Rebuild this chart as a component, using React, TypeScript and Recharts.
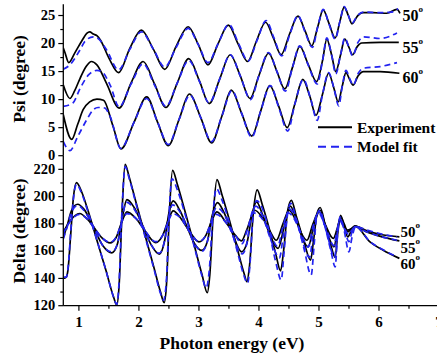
import React from 'react';
import { LineChart, Line, XAxis, YAxis } from 'recharts';

// Ellipsometry spectra: Psi and Delta at three incidence angles,
// measured (black) against the model fit (blue dashes).

type Pt = [number, number];

const FONT = "'Times New Roman', 'Liberation Serif', serif";
const BLUE = '#2323f0';

const energyTicks = [1, 1.5, 2, 2.5, 3, 3.5, 4, 4.5, 5, 5.5, 6, 6.5, 7];
const energyLabels = [1, 2, 3, 4, 5, 6, 7];
const psiTicks = [0, 2.5, 5, 7.5, 10, 12.5, 15, 17.5, 20, 22.5, 25];
const psiLabels = [0, 5, 10, 15, 20, 25];
const deltaTicks = [120, 130, 140, 150, 160, 170, 180, 190, 200, 210, 220];
const deltaLabels = [120, 140, 160, 180, 200, 220];
const angleLabels = ['50', '55', '60'];
const legendLabels = ['Experiment', 'Model fit'];

// ---- Psi (degree) ----
const psi50Exp: Pt[] = [
  [0.74, 19.2], [0.77, 18.3], [0.83, 16.6], [0.93, 18.3], [1.05, 20.5], [1.13, 21.8], [1.18, 22.1],
  [1.24, 21.7], [1.3, 21.4], [1.36, 20.6], [1.5, 17.4], [1.66, 14.8], [1.85, 19.2], [2.04, 22.4],
  [2.24, 19.0], [2.43, 15.4], [2.62, 19.5], [2.82, 23.0], [2.99, 19.8], [3.15, 16.2], [3.32, 20.0],
  [3.49, 23.3], [3.65, 20.0], [3.81, 16.8], [3.96, 20.5], [4.11, 23.8], [4.24, 21.0], [4.37, 18.0],
  [4.51, 21.7], [4.65, 24.9], [4.77, 22.2], [4.88, 19.6], [4.98, 23.0], [5.07, 26.0], [5.17, 23.5],
  [5.27, 21.0], [5.35, 24.0], [5.42, 26.5], [5.49, 25.0], [5.55, 23.5], [5.64, 24.9], [5.73, 25.5],
  [5.9, 25.5], [6.13, 25.4], [6.3, 26.1], [6.35, 25.4],
];
const psi50Fit: Pt[] = [
  [0.74, 15.4], [0.85, 16.2], [1.02, 18.9], [1.1, 20.4], [1.24, 21.2], [1.32, 20.9], [1.46, 18.9],
  [1.66, 15.3], [1.85, 19.0], [2.04, 22.1], [2.24, 19.0], [2.43, 15.8], [2.62, 19.3], [2.82, 22.7],
  [2.99, 19.8], [3.15, 16.6], [3.32, 20.0], [3.5, 23.4], [3.66, 20.0], [3.82, 16.9], [3.97, 20.6],
  [4.12, 24.1], [4.25, 21.0], [4.38, 17.8], [4.52, 21.8], [4.65, 25.0], [4.77, 22.0], [4.89, 19.3],
  [4.98, 23.0], [5.07, 26.1], [5.17, 23.4], [5.27, 20.8], [5.35, 24.0], [5.42, 26.6], [5.49, 25.0],
  [5.55, 23.6], [5.64, 25.0], [5.75, 25.6], [6.0, 25.5], [6.2, 25.6], [6.32, 26.2],
];
const psi55Exp: Pt[] = [
  [0.74, 12.6], [0.85, 10.2], [0.93, 11.6], [1.02, 13.8], [1.12, 15.9], [1.21, 16.8], [1.3, 16.2],
  [1.46, 12.9], [1.67, 8.5], [1.87, 13.0], [2.07, 16.8], [2.26, 12.8], [2.45, 8.6], [2.64, 13.0],
  [2.83, 17.3], [3.01, 13.3], [3.17, 9.3], [3.35, 13.8], [3.52, 18.0], [3.69, 14.2], [3.85, 10.2],
  [4.0, 14.3], [4.16, 18.3], [4.3, 15.0], [4.43, 11.9], [4.56, 15.8], [4.68, 19.5], [4.82, 16.3],
  [4.96, 13.2], [5.06, 17.0], [5.13, 20.8], [5.21, 18.0], [5.28, 15.0], [5.36, 18.0], [5.43, 20.8],
  [5.5, 19.3], [5.56, 18.0], [5.64, 19.5], [5.71, 20.1], [6.02, 20.2], [6.33, 20.2],
];
const psi55Fit: Pt[] = [
  [0.74, 8.8], [0.9, 9.4], [1.02, 12.0], [1.16, 14.4], [1.3, 15.2], [1.38, 15.0], [1.52, 12.6],
  [1.67, 8.7], [1.87, 12.8], [2.07, 16.4], [2.26, 12.6], [2.45, 8.8], [2.64, 13.0], [2.83, 17.0],
  [3.01, 13.2], [3.17, 9.4], [3.35, 13.8], [3.52, 18.0], [3.69, 14.2], [3.86, 10.0], [4.0, 14.3],
  [4.16, 18.4], [4.3, 15.0], [4.44, 11.5], [4.56, 15.8], [4.68, 19.6], [4.82, 16.2], [4.97, 12.8],
  [5.06, 17.0], [5.13, 21.0], [5.21, 18.0], [5.28, 14.6], [5.36, 18.0], [5.43, 21.0], [5.5, 19.3],
  [5.56, 17.8], [5.65, 20.2], [5.74, 21.2], [6.02, 20.9], [6.3, 21.9],
];
const psi60Exp: Pt[] = [
  [0.74, 7.3], [0.88, 2.9], [0.98, 5.6], [1.07, 8.2], [1.18, 9.6], [1.3, 10.1], [1.41, 9.9],
  [1.57, 5.2], [1.7, 1.2], [1.92, 6.0], [2.13, 10.5], [2.31, 6.0], [2.49, 1.8], [2.67, 6.5],
  [2.84, 11.0], [3.03, 6.8], [3.21, 2.3], [3.38, 7.0], [3.54, 11.7], [3.71, 7.6], [3.88, 3.5],
  [4.03, 8.0], [4.18, 12.5], [4.33, 8.8], [4.47, 5.0], [4.6, 9.3], [4.73, 13.6], [4.85, 10.5],
  [4.95, 7.2], [5.06, 11.0], [5.16, 14.7], [5.25, 12.0], [5.32, 9.6], [5.39, 12.5], [5.45, 14.8],
  [5.51, 13.6], [5.57, 12.6], [5.65, 14.2], [5.74, 15.0], [6.02, 15.0], [6.34, 14.7],
];
const psi60Fit: Pt[] = [
  [0.74, 2.5], [0.85, 0.9], [0.98, 3.4], [1.13, 6.4], [1.24, 8.2], [1.32, 8.6], [1.43, 8.5],
  [1.52, 7.0], [1.7, 1.3], [1.92, 6.0], [2.13, 10.2], [2.31, 6.0], [2.49, 2.0], [2.67, 6.5],
  [2.85, 10.8], [3.03, 6.8], [3.21, 2.5], [3.38, 7.0], [3.55, 11.6], [3.71, 7.6], [3.88, 3.3],
  [4.03, 8.0], [4.19, 12.5], [4.33, 8.6], [4.48, 4.4], [4.6, 9.3], [4.74, 13.6], [4.86, 10.2],
  [4.97, 6.3], [5.06, 11.0], [5.16, 14.8], [5.25, 12.0], [5.33, 8.9], [5.39, 12.5], [5.45, 15.2],
  [5.51, 13.8], [5.57, 12.6], [5.66, 14.8], [5.74, 15.6], [6.02, 15.9], [6.3, 16.6],
];

// ---- Delta (degree) ----
const delta50Exp: Pt[] = [
  [0.74, 174], [0.85, 182], [1.01, 187.6], [1.15, 183], [1.24, 178], [1.38, 170], [1.52, 166.1],
  [1.62, 170], [1.72, 182], [1.8, 188.8], [1.95, 184], [2.1, 175], [2.28, 166.3], [2.4, 172],
  [2.5, 184], [2.57, 189.5], [2.7, 184], [2.85, 174], [3.0, 166.8], [3.12, 172], [3.22, 183],
  [3.3, 188.8], [3.45, 181], [3.6, 172], [3.71, 167.5], [3.8, 176], [3.93, 190], [4.05, 185],
  [4.18, 175], [4.29, 168], [4.4, 180], [4.5, 190], [4.62, 182], [4.72, 172], [4.8, 168],
  [4.9, 180], [5.0, 189], [5.1, 180], [5.24, 169.3], [5.3, 176], [5.35, 182.7], [5.42, 178],
  [5.48, 175.4], [5.54, 176.5], [5.6, 178.3], [5.8, 175], [6.05, 172], [6.34, 170.5],
];
const delta50Fit: Pt[] = [
  [0.74, 173], [0.85, 181.5], [1.01, 187], [1.15, 183], [1.24, 178], [1.38, 170], [1.52, 166.5],
  [1.62, 170], [1.72, 182], [1.8, 187.5], [1.95, 184], [2.1, 175], [2.28, 167], [2.4, 172],
  [2.5, 183], [2.56, 187.5], [2.7, 184], [2.85, 174], [3.0, 167], [3.12, 172], [3.22, 183],
  [3.29, 187], [3.45, 181], [3.6, 172], [3.72, 165.5], [3.8, 175], [3.91, 188], [4.05, 184],
  [4.18, 174], [4.31, 163.5], [4.4, 178], [4.49, 188], [4.62, 181], [4.72, 171], [4.82, 163],
  [4.9, 178], [4.99, 188], [5.1, 179], [5.25, 164], [5.3, 175], [5.35, 182], [5.42, 177],
  [5.5, 172], [5.55, 175.5], [5.6, 178], [5.8, 175.5], [6.05, 172.5], [6.3, 170.5],
];
const delta55Exp: Pt[] = [
  [0.74, 170], [0.8, 178], [0.88, 190], [0.98, 194.4], [1.08, 191], [1.24, 178], [1.4, 164],
  [1.55, 158.8], [1.64, 165], [1.72, 184], [1.8, 197.8], [1.92, 192], [2.05, 180], [2.2, 165],
  [2.34, 157.8], [2.43, 168], [2.5, 188], [2.57, 196.8], [2.68, 190], [2.8, 178], [2.92, 166],
  [3.05, 160.5], [3.14, 167], [3.22, 186], [3.31, 195.6], [3.42, 188], [3.55, 174], [3.71, 159.5],
  [3.8, 166], [3.88, 186], [3.96, 196.1], [4.05, 188], [4.2, 170], [4.32, 162], [4.42, 178],
  [4.52, 193], [4.62, 184], [4.72, 170], [4.82, 163.2], [4.92, 180], [5.02, 190], [5.12, 176],
  [5.25, 163.2], [5.31, 176], [5.36, 185.1], [5.42, 180], [5.48, 174.1], [5.54, 176.5], [5.6, 178.3],
  [5.8, 174], [6.05, 170.5], [6.34, 167.5],
];
const delta55Fit: Pt[] = [
  [0.74, 169], [0.8, 177], [0.88, 189], [0.98, 193.5], [1.08, 190], [1.24, 178], [1.4, 164],
  [1.55, 159.5], [1.64, 165], [1.72, 184], [1.79, 196], [1.92, 191], [2.05, 180], [2.2, 165],
  [2.34, 158.5], [2.43, 168], [2.5, 186], [2.56, 194], [2.68, 189], [2.8, 178], [2.92, 166],
  [3.05, 160], [3.14, 167], [3.22, 184], [3.29, 192], [3.42, 187], [3.55, 173], [3.72, 158],
  [3.8, 166], [3.87, 186], [3.95, 193], [4.05, 187], [4.2, 168], [4.34, 155], [4.42, 176],
  [4.5, 191], [4.62, 183], [4.72, 168], [4.84, 155.5], [4.92, 178], [5.0, 189], [5.12, 175],
  [5.26, 155.5], [5.31, 175], [5.35, 184], [5.42, 177], [5.5, 167], [5.55, 174], [5.6, 178],
  [5.8, 174], [6.05, 170.5], [6.3, 168],
];
const delta60Exp: Pt[] = [
  [0.74, 140], [0.79, 141], [0.82, 147], [0.86, 170], [0.91, 200], [0.96, 210.3], [1.05, 203],
  [1.15, 190], [1.3, 168], [1.45, 146], [1.58, 126], [1.63, 120.5], [1.67, 135], [1.72, 190],
  [1.77, 223.7], [1.84, 214], [1.95, 196], [2.1, 172], [2.25, 148], [2.36, 130], [2.42, 122.2],
  [2.46, 136], [2.51, 190], [2.56, 219.3], [2.64, 209], [2.75, 192], [2.9, 168], [3.05, 143],
  [3.14, 129.5], [3.18, 142], [3.24, 188], [3.3, 212.5], [3.38, 202], [3.5, 184], [3.65, 160],
  [3.75, 144], [3.8, 137.6], [3.84, 148], [3.91, 190], [3.97, 205], [4.05, 195], [4.15, 180],
  [4.28, 158], [4.36, 145.6], [4.41, 160], [4.48, 190], [4.54, 197.3], [4.62, 186], [4.75, 167],
  [4.86, 153.4], [4.91, 168], [4.97, 188], [5.02, 192], [5.1, 180], [5.2, 164], [5.27, 155.4],
  [5.31, 172], [5.36, 186.3], [5.42, 178], [5.48, 170.5], [5.54, 175], [5.6, 178.3], [5.85, 166.8],
  [6.07, 160.7], [6.34, 154.7],
];
const delta60Fit: Pt[] = [
  [0.74, 141], [0.79, 141], [0.82, 148], [0.86, 172], [0.91, 199], [0.96, 209], [1.05, 202],
  [1.15, 189], [1.3, 168], [1.45, 146], [1.58, 126], [1.63, 121], [1.67, 138], [1.72, 192],
  [1.77, 222], [1.84, 213], [1.95, 195], [2.1, 171], [2.25, 147], [2.36, 129], [2.41, 124],
  [2.46, 140], [2.5, 185], [2.55, 213], [2.64, 205], [2.75, 190], [2.9, 167], [3.05, 142],
  [3.12, 133], [3.17, 145], [3.23, 185], [3.29, 206], [3.38, 198], [3.5, 182], [3.65, 158],
  [3.75, 142], [3.81, 136.4], [3.85, 150], [3.9, 185], [3.96, 197], [4.05, 192], [4.15, 178],
  [4.28, 152], [4.37, 138.8], [4.42, 160], [4.47, 185], [4.53, 195], [4.62, 184], [4.75, 162],
  [4.87, 142.5], [4.92, 165], [4.96, 185], [5.01, 190], [5.1, 178], [5.2, 160], [5.27, 148.5],
  [5.31, 172], [5.35, 185], [5.42, 175], [5.5, 159.5], [5.55, 170], [5.61, 178], [5.85, 167],
  [6.07, 161], [6.3, 155.8],
];

const toPts = (a: Pt[]) => a.map(([x, y]) => ({ x, y }));

const psiExp = [psi50Exp, psi55Exp, psi60Exp];
const psiFit = [psi50Fit, psi55Fit, psi60Fit];
const deltaExp = [delta50Exp, delta55Exp, delta60Exp];
const deltaFit = [delta50Fit, delta55Fit, delta60Fit];

const bold = { fontFamily: FONT, fontWeight: 'bold' as const, fill: '#000' };

function LeftTick(props: any) {
  const { x, y, payload, labels } = props;
  const major = labels.includes(payload.value);
  return (
    <g>
      <line x1={x} y1={y} x2={x - (major ? 5 : 3)} y2={y} stroke="#000" strokeWidth={1.2} />
      {major && (
        <text x={x - 8} y={y + 4.3} textAnchor="end" fontSize={14.5} {...bold}>
          {payload.value}
        </text>
      )}
    </g>
  );
}

// dir: -1 draws the tick upwards, 1 downwards
function EnergyTick(props: any) {
  const { x, y, payload, dir, showLabel } = props;
  const major = energyLabels.includes(payload.value);
  const len = major ? 5 : 3;
  return (
    <g>
      <line x1={x} y1={y} x2={x} y2={y + dir * len} stroke="#000" strokeWidth={1.2} />
      {showLabel && major && (
        <text x={x} y={y + 21} textAnchor="middle" fontSize={15} {...bold}>
          {payload.value}
        </text>
      )}
    </g>
  );
}

function seriesLines(exp: Pt[][], fit: Pt[][]) {
  const black = exp.map((s, i) => (
    <Line
      key={'e' + i}
      data={toPts(s)}
      dataKey="y"
      type="monotone"
      stroke="#000"
      strokeWidth={1.7}
      dot={false}
      isAnimationActive={false}
    />
  ));
  const blue = fit.map((s, i) => (
    <Line
      key={'f' + i}
      data={toPts(s)}
      dataKey="y"
      type="monotone"
      stroke={BLUE}
      strokeWidth={1.7}
      strokeDasharray="6 4"
      dot={false}
      isAnimationActive={false}
    />
  ));
  return [...black, ...blue];
}

function Overlay() {
  return (
    <svg width={437} height={355} style={{ position: 'absolute', left: 0, top: 0, pointerEvents: 'none' }}>
      <text transform="translate(24.5,79) rotate(-90)" textAnchor="middle" fontSize={17.5} {...bold}>
        Psi (degree)
      </text>
      <text transform="translate(24.5,231) rotate(-90)" textAnchor="middle" fontSize={17.5} {...bold}>
        Delta (degree)
      </text>
      <text x={232} y={348.5} textAnchor="middle" fontSize={17.5} {...bold}>
        Photon energy (eV)
      </text>

      <line x1={318} y1={127.3} x2={352} y2={127.3} stroke="#000" strokeWidth={2} />
      <text x={357} y={132.5} fontSize={15.5} {...bold}>{legendLabels[0]}</text>
      <line x1={318} y1={146.7} x2={352} y2={146.7} stroke={BLUE} strokeWidth={2} strokeDasharray="8 5" />
      <text x={357} y={151.8} fontSize={15.5} {...bold}>{legendLabels[1]}</text>

      {angleLabels.map((a, i) => (
        <text key={'t' + a} x={402.5} y={[20.7, 53.3, 82.7][i]} fontSize={16} {...bold}>
          {a}
          <tspan dy={-9} fontSize={9}>o</tspan>
        </text>
      ))}
      {angleLabels.map((a, i) => (
        <text key={'b' + a} x={400.5} y={[237.3, 252.7, 269.3][i]} fontSize={15} {...bold}>
          {a}
          <tspan dy={-9} fontSize={9}>o</tspan>
        </text>
      ))}
    </svg>
  );
}

export default function App() {
  return (
    <div
      style={{
        position: 'fixed',
        left: 0,
        top: 0,
        width: 437,
        height: 355,
        overflow: 'hidden',
        background: '#fff',
      }}
    >
      <div style={{ position: 'absolute', left: 0, top: 150 }}>
        <LineChart width={445} height={205} margin={{ top: 5.7, right: 6, bottom: 0, left: 0 }}>
          <XAxis
            xAxisId={0}
            type="number"
            dataKey="x"
            domain={[0.74, 7]}
            allowDataOverflow
            ticks={energyTicks}
            interval={0}
            height={49.3}
            tickSize={0}
            tickMargin={0}
            tickLine={false}
            axisLine={{ stroke: '#000', strokeWidth: 1.3 }}
            tick={(p: any) => <EnergyTick {...p} dir={1} showLabel />}
          />
          <XAxis
            xAxisId="top"
            orientation="top"
            type="number"
            dataKey="x"
            domain={[0.74, 7]}
            allowDataOverflow
            ticks={energyTicks}
            interval={0}
            height={0}
            tickSize={0}
            tickMargin={0}
            tickLine={false}
            axisLine={{ stroke: '#000', strokeWidth: 1.3 }}
            tick={(p: any) => <EnergyTick {...p} dir={1} showLabel={false} />}
          />
          <YAxis
            type="number"
            domain={[120, 230]}
            allowDataOverflow
            ticks={deltaTicks}
            interval={0}
            width={63.3}
            tickSize={0}
            tickMargin={0}
            tickLine={false}
            axisLine={{ stroke: '#000', strokeWidth: 1.3 }}
            tick={(p: any) => <LeftTick {...p} labels={deltaLabels} />}
          />
          {seriesLines(deltaExp, deltaFit)}
        </LineChart>
      </div>
      <div style={{ position: 'absolute', left: 0, top: 0 }}>
        <LineChart width={445} height={170} margin={{ top: 4.3, right: 6, bottom: 14.3, left: 0 }}>
          <XAxis
            xAxisId={0}
            type="number"
            dataKey="x"
            domain={[0.74, 7]}
            allowDataOverflow
            ticks={energyTicks}
            interval={0}
            height={0}
            tickSize={0}
            tickMargin={0}
            tickLine={false}
            axisLine={{ stroke: '#000', strokeWidth: 1.3 }}
            tick={(p: any) => <EnergyTick {...p} dir={-1} showLabel={false} />}
          />
          <XAxis
            xAxisId="top"
            orientation="top"
            type="number"
            dataKey="x"
            domain={[0.74, 7]}
            allowDataOverflow
            height={0}
            tick={false}
            tickLine={false}
            axisLine={{ stroke: '#000', strokeWidth: 1.3 }}
          />
          <YAxis
            type="number"
            domain={[0, 27]}
            allowDataOverflow
            ticks={psiTicks}
            interval={0}
            width={63.3}
            tickSize={0}
            tickMargin={0}
            tickLine={false}
            axisLine={{ stroke: '#000', strokeWidth: 1.3 }}
            tick={(p: any) => <LeftTick {...p} labels={psiLabels} />}
          />
          {seriesLines(psiExp, psiFit)}
        </LineChart>
      </div>
      <Overlay />
    </div>
  );
}
